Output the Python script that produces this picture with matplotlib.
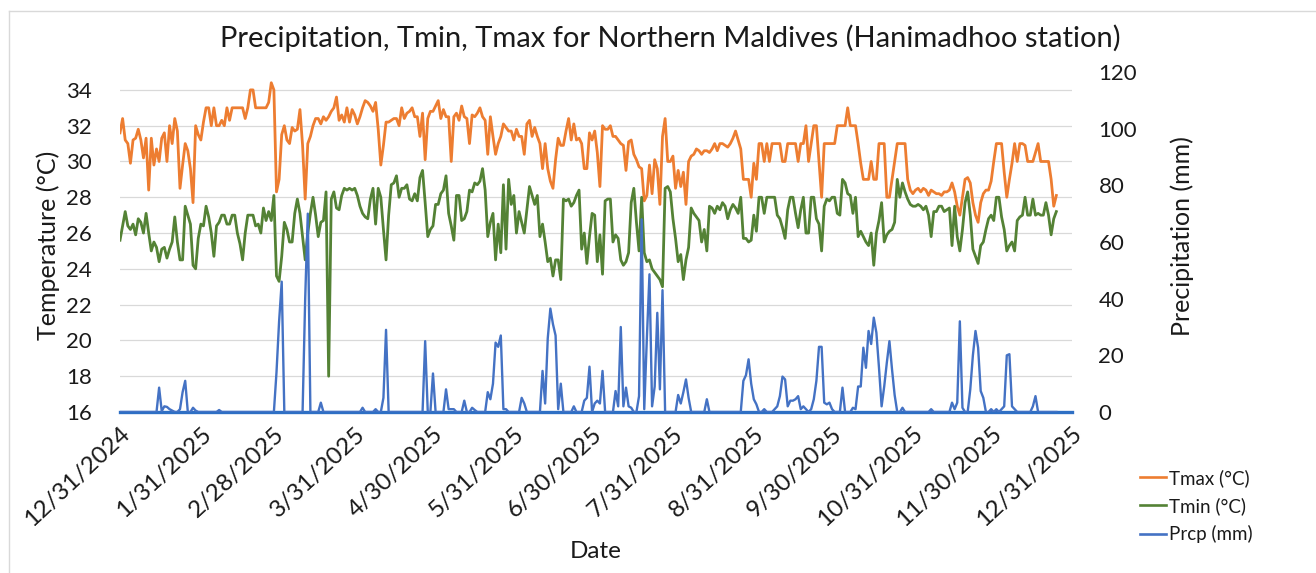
import pandas as pd
import matplotlib
matplotlib.use("Agg")
import matplotlib.pyplot as plt
from matplotlib.lines import Line2D

plt.rcParams['font.family'] = ['Lato', 'DejaVu Sans']

# daily series, first value is 12/31/2024
start_date = '2024-12-31'

tmax = [
    31.6, 32.4, 31.2, 31.0, 29.9, 31.2, 31.3, 31.8, 31.2, 30.2,
    31.3, 28.4, 31.3, 29.8, 30.7, 30.0, 31.3, 31.6, 30.0, 32.0,
    31.0, 32.4, 31.7, 28.5, 29.8, 31.0, 30.6, 29.6, 27.7, 32.0,
    31.5, 31.2, 32.2, 33.0, 33.0, 32.0, 33.0, 32.0, 32.0, 32.3,
    32.0, 33.0, 32.3, 33.0, 33.0, 33.0, 33.0, 33.0, 32.4, 33.0,
    34.0, 34.0, 33.0, 33.0, 33.0, 33.0, 33.0, 33.3, 34.4, 34.0,
    28.3, 29.0, 31.5, 32.0, 31.2, 31.0, 31.9, 31.7, 31.8, 32.9,
    30.9, 27.9, 31.0, 31.4, 32.0, 32.4, 32.4, 32.1, 32.5, 32.3,
    32.5, 32.8, 33.0, 33.6, 32.3, 32.6, 32.2, 33.0, 32.2, 32.9,
    32.6, 32.1, 32.5, 33.0, 33.4, 33.3, 33.1, 32.8, 33.3, 31.8,
    29.8, 30.9, 32.2, 32.2, 32.3, 32.4, 32.4, 32.0, 33.0, 32.4,
    32.7, 32.8, 33.0, 32.5, 32.5, 31.4, 32.7, 30.1, 32.4, 32.8,
    32.8, 33.1, 33.4, 32.4, 32.9, 32.5, 32.5, 30.0, 32.5, 32.7,
    32.3, 33.1, 32.5, 32.4, 31.0, 32.6, 32.5, 32.7, 33.0, 32.5,
    32.3, 30.4, 32.5, 31.4, 30.4, 31.0, 31.4, 32.1, 31.9, 31.7,
    31.7, 31.2, 31.8, 31.4, 31.4, 30.4, 32.1, 32.3, 31.4, 31.9,
    31.4, 31.0, 29.6, 31.0, 29.6, 28.9, 28.5, 30.1, 31.3, 30.9,
    30.9, 31.7, 32.4, 31.2, 32.1, 31.2, 31.3, 31.0, 29.6, 29.6,
    31.6, 31.2, 31.7, 30.5, 28.6, 32.0, 31.8, 31.8, 32.0, 31.4,
    31.4, 31.2, 31.0, 30.9, 29.5, 31.1, 31.2, 30.4, 30.1, 29.7,
    29.6, 27.8, 28.1, 29.8, 28.2, 30.1, 29.6, 27.6, 31.4, 32.4,
    30.0, 30.0, 30.3, 28.5, 29.5, 28.6, 29.4, 27.6, 30.0, 30.3,
    30.4, 30.7, 30.6, 30.4, 30.6, 30.6, 30.5, 30.7, 31.0, 30.6,
    31.0, 31.0, 30.9, 30.8, 31.0, 31.3, 31.7, 31.2, 30.7, 29.0,
    29.0, 29.0, 28.0, 29.9, 29.0, 31.0, 31.0, 30.0, 31.0, 30.0,
    31.0, 31.0, 31.0, 31.0, 30.0, 30.0, 31.0, 31.0, 31.0, 31.0,
    30.0, 31.0, 31.0, 32.0, 30.0, 31.0, 32.0, 32.0, 30.0, 28.0,
    31.0, 31.0, 31.0, 31.0, 31.0, 32.0, 32.0, 32.0, 32.0, 33.0,
    32.0, 32.0, 32.0, 31.0, 29.9, 29.0, 29.0, 29.0, 30.0, 29.0,
    29.0, 31.0, 31.0, 31.0, 28.0, 28.0, 29.0, 30.0, 31.0, 31.0,
    31.0, 31.0, 29.0, 28.4, 28.2, 28.4, 28.5, 28.3, 28.5, 28.4,
    28.1, 28.4, 28.3, 28.2, 28.2, 28.1, 28.3, 28.3, 28.4, 28.8,
    28.3, 27.5, 27.0, 28.0, 29.0, 29.1, 28.8, 27.7, 27.0, 26.6,
    27.7, 28.2, 28.4, 28.4, 28.9, 30.0, 31.0, 31.0, 31.0, 29.4,
    28.0, 29.0, 29.9, 31.0, 30.0, 31.0, 31.0, 30.9, 30.0, 30.0,
    30.0, 30.5, 31.0, 30.0, 30.0, 30.0, 30.0, 29.0, 27.5, 28.1,
]

tmin = [
    25.6, 26.4, 27.2, 26.4, 26.2, 26.5, 25.9, 26.8, 26.6, 26.0,
    27.1, 26.0, 25.0, 25.5, 25.2, 24.4, 25.1, 25.2, 24.6, 25.1,
    25.5, 26.9, 25.5, 24.5, 24.5, 27.5, 27.0, 26.5, 24.2, 24.0,
    25.7, 26.5, 26.4, 27.5, 26.9, 26.0, 24.7, 26.4, 26.6, 27.0,
    27.0, 26.5, 26.5, 27.0, 27.0, 26.0, 25.4, 24.5, 26.0, 27.0,
    27.0, 27.0, 26.4, 26.5, 26.0, 27.4, 26.7, 27.2, 26.7, 28.1,
    23.6, 23.3, 24.7, 26.6, 26.2, 25.5, 25.5, 27.1, 27.9, 27.1,
    25.8, 24.5, 26.0, 27.1, 28.0, 27.0, 25.8, 26.6, 26.7, 28.3,
    18.0, 27.9, 28.3, 27.4, 27.3, 28.1, 28.5, 28.4, 28.5, 28.4,
    28.5, 28.1, 27.5, 27.1, 26.9, 26.8, 27.9, 28.5, 26.5, 28.5,
    28.0, 26.2, 24.5, 27.0, 28.7, 28.8, 29.2, 28.0, 28.5, 28.5,
    28.7, 27.9, 27.8, 28.2, 27.8, 29.1, 29.5, 27.7, 25.8, 26.2,
    26.4, 27.6, 27.6, 28.2, 28.4, 29.2, 27.1, 26.4, 25.6, 28.1,
    28.1, 26.7, 26.8, 27.2, 28.4, 28.3, 28.8, 28.7, 28.9, 29.6,
    28.4, 25.8, 26.6, 27.1, 24.5, 26.5, 24.9, 28.7, 25.1, 29.0,
    27.6, 28.1, 26.0, 27.2, 26.6, 26.0, 27.3, 28.6, 28.1, 27.6,
    28.1, 25.8, 26.5, 25.5, 24.4, 24.6, 23.6, 24.5, 24.5, 23.4,
    27.9, 27.8, 27.9, 27.5, 27.7, 28.1, 28.4, 25.1, 26.0, 24.3,
    25.8, 27.1, 27.0, 24.4, 25.9, 23.7, 27.8, 27.9, 27.9, 25.5,
    25.9, 25.7, 24.5, 24.2, 24.4, 24.9, 27.7, 28.5, 26.6, 25.0,
    28.0, 24.9, 24.4, 24.5, 24.0, 23.8, 23.6, 23.4, 23.0, 28.5,
    28.6, 28.3, 26.8, 25.7, 24.4, 24.8, 23.4, 24.5, 25.2, 27.4,
    27.1, 26.9, 26.7, 25.5, 26.2, 25.0, 27.5, 27.4, 27.1, 27.5,
    27.3, 27.7, 27.5, 26.8, 27.3, 27.6, 27.4, 27.1, 28.0, 25.7,
    25.7, 25.5, 25.6, 27.0, 26.1, 28.0, 28.0, 27.1, 28.0, 28.0,
    28.0, 28.0, 27.0, 26.8, 26.3, 25.7, 27.3, 28.0, 28.0, 27.1,
    26.3, 27.3, 28.0, 26.0, 26.0, 28.0, 28.0, 26.8, 26.5, 25.0,
    27.5, 27.9, 27.8, 28.0, 28.0, 27.1, 27.0, 29.0, 28.8, 28.2,
    28.1, 27.1, 28.0, 25.8, 26.1, 25.8, 25.5, 25.3, 26.0, 24.2,
    26.0, 26.7, 27.7, 25.5, 25.9, 26.1, 26.2, 26.6, 29.0, 28.0,
    28.8, 28.3, 27.9, 27.6, 27.5, 27.5, 27.6, 27.5, 27.3, 27.5,
    27.0, 25.8, 27.2, 27.2, 27.5, 27.5, 27.2, 27.3, 27.4, 25.3,
    27.5, 25.8, 25.0, 26.2, 27.7, 28.3, 27.0, 25.1, 24.7, 24.3,
    25.3, 25.5, 26.2, 26.8, 27.0, 26.7, 28.0, 28.0, 26.9, 26.2,
    25.0, 25.3, 25.5, 25.0, 26.7, 26.9, 27.0, 28.0, 27.0, 27.0,
    27.9, 27.0, 27.1, 27.0, 27.0, 27.7, 27.0, 25.9, 26.8, 27.2,
]

prcp = [
    0, 0, 0, 0, 0, 0, 0, 0, 0, 0,
    0, 0, 0, 0, 0, 8.6, 0.3, 2, 1.8, 1,
    0.5, 0, 0, 1, 7, 11, 0, 0, 1.5, 0.5,
    0, 0, 0, 0, 0, 0, 0, 0, 0.7, 0,
    0, 0, 0, 0, 0, 0, 0, 0, 0, 0,
    0, 0, 0, 0, 0, 0, 0, 0, 0, 0,
    14, 32, 46, 0, 0, 0, 0, 0, 0, 0,
    0, 40, 70, 0, 0, 0, 0, 3.3, 0, 0,
    0, 0, 0, 0, 0, 0, 0, 0, 0, 0,
    0, 0, 0, 1.5, 0, 0, 0, 0, 1, 0,
    0, 5, 29, 0, 0, 0, 0, 0, 0, 0,
    0, 0, 0, 0, 0, 0, 0, 25, 0, 0,
    13.6, 0, 0, 0, 0, 8, 1, 1, 1, 0,
    0, 0, 4, 0, 0, 1.5, 0.7, 0, 0, 0,
    0, 7, 4.5, 10, 24.5, 23, 27, 1, 1, 0,
    0, 0, 0, 0, 5, 3, 0, 0, 0, 0,
    0, 0, 14.5, 3, 26, 36.5, 31, 27, 1, 10,
    0, 0, 0, 0, 2, 0, 0, 0, 4, 5,
    16, 0, 3, 4, 3, 14.5, 0, 0, 0, 0,
    7.4, 2, 30, 2, 8.6, 2, 1.5, 0, 0, 5.6,
    68, 1, 26, 48.6, 2, 9, 35, 8, 43, 0,
    0, 0, 0, 0, 6, 3, 7, 11.5, 5, 0,
    0, 0, 0, 0, 0, 4.5, 0, 0, 0, 0,
    0, 0, 0, 0, 0, 0, 0, 0, 0, 11,
    13, 18.6, 10, 4.5, 2.7, 0, 0, 1, 0, 0,
    0, 1, 2, 5.6, 12.5, 11.5, 2, 4, 4, 4.5,
    5.6, 1, 2, 1, 0, 1, 4.5, 11, 23, 23,
    3.3, 2.7, 3.3, 1, 0, 0, 0, 8.6, 0, 0,
    0, 1.5, 1, 9, 9, 22.7, 15.6, 28.6, 24, 33.3,
    28, 15.6, 2, 9, 17.4, 25, 15, 6, 0, 0,
    1.5, 0, 0, 0, 0, 0, 0, 0, 0, 0,
    0, 1, 0, 0, 0, 0, 0, 0, 0, 3.3,
    1, 3.3, 32, 1.5, 0, 0, 8, 20, 28.6, 22.7,
    7.4, 5, 0, 0, 1, 0, 1, 0, 1, 2,
    20, 20.4, 2, 1, 0, 0, 0, 0, 0, 0,
    2, 5.6, 0, 0, 0, 0, 0, 0, 0, 0,
]

xtick_labels = ['12/31/2024', '1/31/2025', '2/28/2025', '3/31/2025', '4/30/2025',
                '5/31/2025', '6/30/2025', '7/31/2025', '8/31/2025', '9/30/2025',
                '10/31/2025', '11/30/2025', '12/31/2025']
temp_ticks = [16, 18, 20, 22, 24, 26, 28, 30, 32, 34]
prcp_ticks = [0, 20, 40, 60, 80, 100, 120]

dates = pd.date_range(start_date, periods=len(tmax), freq='D')
xticks = pd.to_datetime(xtick_labels, format='%m/%d/%Y')

c_tmax = '#ED7D31'
c_tmin = '#548235'
c_prcp = '#4472C4'
txt = '#1a1a1a'

fig = plt.figure(figsize=(13.16, 5.73), dpi=100)
ax = fig.add_axes([120 / 1316, 1 - 412 / 573, 952 / 1316, 340 / 573])
ax2 = ax.twinx()

ax.plot(dates, tmax, color=c_tmax, lw=2.0)
ax.plot(dates, tmin, color=c_tmin, lw=2.0)
ax2.plot(dates, prcp, color=c_prcp, lw=1.7)

ax.set_xlim(xticks[0], xticks[-1])
ax.set_ylim(16, 35)
ax2.set_ylim(0, 120)
ax.set_yticks(temp_ticks)
ax2.set_yticks(prcp_ticks)
ax.set_xticks(xticks)
ax.set_xticklabels(xtick_labels, rotation=43, ha='right', rotation_mode='anchor')

ax.grid(axis='y', color='#D9D9D9', lw=0.9)
ax.set_axisbelow(True)

for s in ['top', 'left', 'right']:
    ax.spines[s].set_visible(False)
ax.spines['bottom'].set_color('#2E6FC4')
ax.spines['bottom'].set_linewidth(2.4)
for s in ax2.spines.values():
    s.set_visible(False)

ax.tick_params(axis='y', length=0, labelsize=16, pad=20, labelcolor=txt)
ax.tick_params(axis='x', length=0, labelsize=17.5, pad=8, labelcolor=txt)
ax2.tick_params(axis='y', length=0, labelsize=16, pad=19, labelcolor=txt)

ax.set_xlabel('Date', fontsize=17.5, color=txt)
ax.xaxis.set_label_coords(0.5, -0.378)
ax.set_ylabel('Temperature (°C)', fontsize=18, color=txt)
ax.yaxis.set_label_coords(-0.063, 0.49)
ax2.set_ylabel('Precipitation (mm)', fontsize=18, color=txt)
ax2.yaxis.set_label_coords(1.103, 0.518)

fig.text(670 / 1316, 1 - 38 / 573, 'Precipitation, Tmin, Tmax for Northern Maldives (Hanimadhoo station)',
         ha='center', va='center', fontsize=21, color=txt)

handles = [Line2D([], [], color=c_tmax, lw=1.9),
           Line2D([], [], color=c_tmin, lw=1.9),
           Line2D([], [], color=c_prcp, lw=1.9)]
fig.legend(handles, ['Tmax (°C)', 'Tmin (°C)', 'Prcp (mm)'],
           loc='upper left', bbox_to_anchor=(1123 / 1316, 1 - 452 / 573),
           frameon=False, fontsize=13.5, handlelength=1.4, handletextpad=0.15,
           labelspacing=0.55, labelcolor=txt)

# chart area border (left and top edges visible)
fig.add_artist(Line2D([9 / 1316, 9 / 1316], [0, 1 - 11 / 573], color='#D9D9D9', lw=1))
fig.add_artist(Line2D([9 / 1316, 1], [1 - 11 / 573, 1 - 11 / 573], color='#D9D9D9', lw=1))

fig.savefig('out.png', dpi=100)
